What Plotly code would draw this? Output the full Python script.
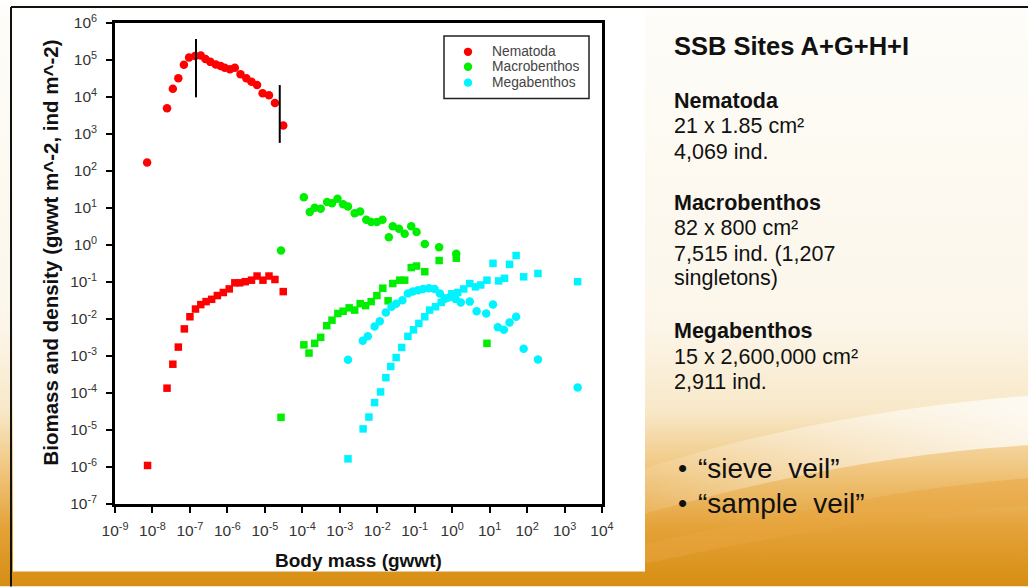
import base64
import plotly.graph_objects as go

# ---------------- data ----------------
nem_circ_x = [7.2e-9, 2.45e-8, 3.5e-8, 4.9e-8, 6.9e-8, 9.5e-8, 1.38e-7, 1.95e-7, 2.6e-7, 3.5e-7,
              4.9e-7, 6.6e-7, 8.5e-7, 1.17e-6, 1.58e-6, 2.24e-6, 3.2e-6, 4.4e-6, 6.2e-6, 8.7e-6,
              1.29e-5, 1.86e-5, 3.1e-5]
nem_circ_y = [170, 5000, 1.66e4, 3.2e4, 7.4e4, 1.17e5, 1.29e5, 1.32e5, 1.07e5, 8.9e4,
              7.6e4, 6.9e4, 6.2e4, 5.6e4, 6.2e4, 4.1e4, 3.2e4, 2.6e4, 2.1e4, 1.26e4,
              1.12e4, 6900, 1700]

nem_sq_x = [7.4e-9, 2.45e-8, 3.5e-8, 4.9e-8, 7.1e-8, 1.0e-7, 1.41e-7, 1.95e-7, 2.7e-7, 3.8e-7,
            5.4e-7, 7.8e-7, 1.12e-6, 1.58e-6, 2.14e-6, 3.0e-6, 4.4e-6, 6.2e-6, 8.9e-6, 1.29e-5,
            1.86e-5, 3.1e-5]
nem_sq_y = [1.1e-6, 1.35e-4, 6.0e-4, 1.74e-3, 5.4e-3, 1.15e-2, 1.86e-2, 2.45e-2, 2.95e-2, 3.4e-2,
            4.3e-2, 5.2e-2, 6.5e-2, 9.5e-2, 9.5e-2, 0.102, 0.112, 0.145, 0.112, 0.145,
            0.117, 5.5e-2]

mac_circ_x = [2.7e-5, 1.1e-4, 1.58e-4, 2.14e-4, 3.1e-4, 4.6e-4, 6.2e-4, 8.7e-4, 1.23e-3, 1.66e-3,
              2.5e-3, 3.5e-3, 5.1e-3, 6.9e-3, 9.8e-3, 1.38e-2, 2.04e-2, 2.6e-2, 3.8e-2, 5.4e-2,
              8.1e-2, 0.112, 0.186, 0.45, 1.29]
mac_circ_y = [0.71, 19.5, 7.8, 10.2, 9.5, 14.5, 13.5, 17.8, 12.6, 11.0,
              7.2, 8.1, 4.8, 4.2, 4.2, 4.8, 1.62, 3.2, 2.75, 2.0,
              3.2, 2.24, 1.07, 0.87, 0.58]

mac_sq_x = [2.7e-5, 1.1e-4, 1.51e-4, 2.14e-4, 3.1e-4, 4.5e-4, 6.2e-4, 8.9e-4, 1.23e-3, 1.78e-3,
            2.5e-3, 3.5e-3, 4.9e-3, 6.9e-3, 9.8e-3, 1.41e-2, 1.95e-2, 2.6e-2, 4.0e-2, 5.4e-2,
            8.1e-2, 0.112, 0.186, 0.45, 1.29, 8.5]
mac_sq_y = [2.2e-5, 2.0e-3, 1.2e-3, 2.2e-3, 3.2e-3, 6.6e-3, 9.3e-3, 1.41e-2, 1.62e-2, 2.0e-2,
            1.74e-2, 2.6e-2, 2.3e-2, 2.95e-2, 4.3e-2, 6.8e-2, 3.1e-2, 9.1e-2, 0.112, 0.112,
            0.245, 0.27, 0.19, 0.38, 0.44, 2.2e-3]

meg_circ_x = [1.66e-3, 4.1e-3, 5.6e-3, 8.5e-3, 1.17e-2, 1.70e-2, 2.4e-2, 3.2e-2, 4.7e-2, 6.6e-2,
              8.9e-2, 0.123, 0.166, 0.24, 0.34, 0.47, 0.63, 0.89, 1.23, 1.70,
              2.95, 4.5, 8.1, 12.3, 16.6, 24, 34, 51, 81, 195, 2240]
meg_circ_y = [7.9e-4, 2.6e-3, 3.4e-3, 6.3e-3, 8.7e-3, 1.51e-2, 2.14e-2, 2.6e-2, 3.2e-2, 4.9e-2,
              5.5e-2, 6.0e-2, 6.5e-2, 6.8e-2, 6.5e-2, 4.9e-2, 3.5e-2, 4.0e-2, 3.5e-2, 2.8e-2,
              2.95e-2, 1.62e-2, 1.41e-2, 2.45e-2, 6.0e-3, 5.1e-3, 8.1e-3, 1.15e-2, 1.58e-3, 8.1e-4, 1.41e-4]

meg_sq_x = [1.66e-3, 4.2e-3, 6.0e-3, 8.5e-3, 1.23e-2, 1.70e-2, 2.3e-2, 3.2e-2, 4.5e-2, 6.6e-2,
            9.3e-2, 0.129, 0.186, 0.25, 0.36, 0.51, 0.71, 0.98, 1.41, 2.04,
            2.95, 4.2, 5.8, 8.5, 12.3, 17.4, 25, 34, 51, 81, 195, 2240]
meg_sq_y = [1.66e-6, 1.07e-5, 2.24e-5, 5.5e-5, 1.07e-4, 2.6e-4, 5.2e-4, 9.1e-4, 1.70e-3, 3.4e-3,
            5.1e-3, 7.6e-3, 1.15e-2, 1.74e-2, 2.14e-2, 2.8e-2, 3.7e-2, 4.8e-2, 5.2e-2, 6.5e-2,
            9.1e-2, 7.4e-2, 8.3e-2, 0.112, 0.32, 0.107, 0.126, 0.30, 0.52, 0.138, 0.17, 0.102]

# sieve / sample veil markers (vertical bars)
veil1_x = [1.45e-7, 1.45e-7]
veil1_y = [3.7e5, 9.8e3]
veil2_x = [2.5e-5, 2.5e-5]
veil2_y = [2.1e4, 575]

x_tick_exp = list(range(-9, 5))
y_tick_exp = list(range(-7, 7))
x_tick_text = ["10<sup>%d</sup>" % e for e in x_tick_exp]
y_tick_text = ["10<sup>%d</sup>" % e for e in y_tick_exp]

legend_names = ["Nematoda", "Macrobenthos", "Megabenthos"]
side_title = "SSB Sites A+G+H+I"
side_lines = [
    ("<b>Nematoda</b>", 105), ("21 x 1.85 cm\u00b2", 131), ("4,069 ind.", 157),
    ("<b>Macrobenthos</b>", 208), ("82 x 800 cm\u00b2", 233), ("7,515 ind. (1,207", 259),
    ("singletons)", 284),
    ("<b>Megabenthos</b>", 337), ("15 x 2,600,000 cm\u00b2", 363), ("2,911 ind.", 388),
]
bullets = [("\u201csieve  veil\u201d", 477), ("\u201csample  veil\u201d", 512)]

RED, GREEN, CYAN = "#ff0000", "#00ee00", "#00f4ff"

# ---------------- geometry helpers (pixels -> paper) ----------------
W, H = 1028, 587
L, R, T, B = 115, 602, 20, 504
PW, PH = R - L, B - T


def xp(px):
    return (px - L) / PW


def yp(py):
    return (B - py) / PH


FONT = "Arial, Liberation Sans, Helvetica, sans-serif"

fig = go.Figure()


def add(x, y, color, symbol, size):
    fig.add_trace(go.Scatter(x=x, y=y, mode="markers", showlegend=False,
                             marker=dict(color=color, symbol=symbol, size=size,
                                         line=dict(width=0))))


add(nem_sq_x, nem_sq_y, RED, "square", 7.5)
add(nem_circ_x, nem_circ_y, RED, "circle", 8.5)
add(mac_sq_x, mac_sq_y, GREEN, "square", 7.5)
add(mac_circ_x, mac_circ_y, GREEN, "circle", 8.5)
add(meg_circ_x, meg_circ_y, CYAN, "circle", 8.5)
add(meg_sq_x, meg_sq_y, CYAN, "square", 7.5)

for vx, vy in ((veil1_x, veil1_y), (veil2_x, veil2_y)):
    fig.add_trace(go.Scatter(x=vx, y=vy, mode="lines", showlegend=False,
                             line=dict(color="black", width=2)))

# ---------------- slide background (SVG gradient) ----------------
svg = f"""<svg xmlns='http://www.w3.org/2000/svg' width='{W}' height='{H}' viewBox='0 0 {W} {H}' preserveAspectRatio='none'>
<defs>
<linearGradient id='g' x1='0' y1='0' x2='0' y2='1'>
<stop offset='0' stop-color='#fefdf9'/>
<stop offset='0.55' stop-color='#fcf6ea'/>
<stop offset='0.70' stop-color='#f8e8c8'/>
<stop offset='0.80' stop-color='#f0c67e'/>
<stop offset='0.90' stop-color='#e4a238'/>
<stop offset='1' stop-color='#d68d12'/>
</linearGradient>
<linearGradient id='w' x1='0' y1='0' x2='1' y2='0'>
<stop offset='0' stop-color='#ffffff' stop-opacity='0.1'/>
<stop offset='1' stop-color='#ffffff' stop-opacity='0.75'/>
</linearGradient>
</defs>
<rect width='{W}' height='{H}' fill='url(#g)'/>
<path d='M640,470 C760,430 900,405 1028,395 L1028,445 C900,452 770,478 640,515 Z' fill='url(#w)'/>
<path d='M640,545 C780,515 900,488 1028,478 L1028,505 C900,515 780,535 640,565 Z' fill='#e9a640' fill-opacity='0.5'/>
</svg>"""
src = "data:image/svg+xml;base64," + base64.b64encode(svg.encode()).decode()

shapes = [
    # white chart panel
    dict(type="rect", xref="paper", yref="paper", x0=xp(13), x1=xp(645), y0=yp(572), y1=yp(6),
         fillcolor="white", line=dict(width=0), layer="below"),
    # slide frame lines
    dict(type="line", xref="paper", yref="paper", x0=xp(11), x1=xp(11), y0=yp(4), y1=yp(587),
         line=dict(color="#111111", width=2), layer="above"),
    dict(type="line", xref="paper", yref="paper", x0=xp(11), x1=xp(1028), y0=yp(4), y1=yp(4),
         line=dict(color="#111111", width=2), layer="above"),
    # legend box
    dict(type="rect", xref="paper", yref="paper", x0=xp(444), x1=xp(589), y0=yp(96), y1=yp(33),
         fillcolor="white", line=dict(color="#222222", width=1.5), layer="above"),
]
legend_colors = [RED, GREEN, CYAN]
legend_rows = [49, 64, 80]
annotations = []
for name, col, row in zip(legend_names, legend_colors, legend_rows):
    r = 4.2
    shapes.append(dict(type="circle", xref="paper", yref="paper",
                       x0=xp(468 - r), x1=xp(468 + r), y0=yp(row + r), y1=yp(row - r),
                       fillcolor=col, line=dict(width=0), layer="above"))
    annotations.append(dict(xref="paper", yref="paper", x=xp(490), y=yp(row), text=name,
                            showarrow=False, xanchor="left", yanchor="middle",
                            font=dict(family=FONT, size=13.8, color="#444444")))

# axis titles
annotations.append(dict(xref="paper", yref="paper", x=xp(358), y=yp(561),
                        text="<b>Body mass (gwwt)</b>", showarrow=False,
                        xanchor="center", yanchor="middle",
                        font=dict(family=FONT, size=19, color="#111111")))
annotations.append(dict(xref="paper", yref="paper", x=xp(51), y=yp(251),
                        text="<b>Biomass and density (gwwt m^-2, ind m^-2)</b>", showarrow=False,
                        textangle=-90, xanchor="center", yanchor="middle",
                        font=dict(family=FONT, size=20.5, color="#111111")))

# side text
annotations.append(dict(xref="paper", yref="paper", x=xp(672), y=yp(52 - 8.5),
                        text="<b>%s</b>" % side_title, showarrow=False,
                        xanchor="left", yanchor="middle",
                        font=dict(family=FONT, size=25.5, color="#111111")))
for txt, base in side_lines:
    annotations.append(dict(xref="paper", yref="paper", x=xp(672), y=yp(base - 7),
                            text=txt, showarrow=False, xanchor="left", yanchor="middle",
                            font=dict(family=FONT, size=21.5, color="#111111")))
for txt, base in bullets:
    annotations.append(dict(xref="paper", yref="paper", x=xp(676), y=yp(base - 9),
                            text="\u2022", showarrow=False, xanchor="left", yanchor="middle",
                            font=dict(family=FONT, size=26, color="#111111")))
    annotations.append(dict(xref="paper", yref="paper", x=xp(696), y=yp(base - 9),
                            text=txt, showarrow=False, xanchor="left", yanchor="middle",
                            font=dict(family=FONT, size=28, color="#111111")))

axis_common = dict(type="log", showgrid=False, zeroline=False, ticks="outside", ticklen=6,
                   tickwidth=2, tickcolor="black", showline=True, linecolor="black",
                   linewidth=2.5, mirror=True,
                   tickfont=dict(family=FONT, size=15.5, color="#333333"))

fig.update_layout(
    width=W, height=H, autosize=False,
    margin=dict(l=L, r=W - R, t=T, b=H - B, pad=0),
    paper_bgcolor="white", plot_bgcolor="rgba(0,0,0,0)",
    showlegend=False,
    xaxis=dict(range=[-9, 4], tickvals=[10.0 ** e for e in x_tick_exp], ticktext=x_tick_text,
               ticklabelstandoff=5, **axis_common),
    yaxis=dict(range=[-7, 6], tickvals=[10.0 ** e for e in y_tick_exp], ticktext=y_tick_text,
               ticklabelstandoff=6, **axis_common),
    images=[dict(source=src, xref="paper", yref="paper", x=xp(0), y=yp(0),
                 sizex=W / PW, sizey=H / PH, sizing="stretch", xanchor="left", yanchor="top",
                 layer="below")],
    shapes=shapes,
    annotations=annotations,
)

fig.write_html("out.html")
